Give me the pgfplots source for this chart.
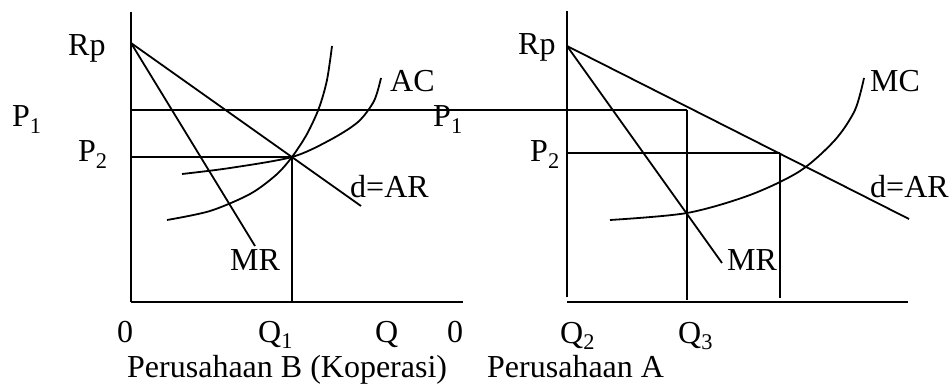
\documentclass[border=0pt]{standalone}
\usepackage{pgfplots}
\pgfplotsset{compat=1.18}
\usepackage{fontspec}
\setmainfont{Liberation Serif}
\tikzset{lbl/.style={inner sep=0pt, anchor=base west, font=\fontsize{32}{38}\selectfont}}
\begin{document}
\begin{tikzpicture}
\begin{axis}[
  scale only axis, width=951pt, height=385pt,
  xmin=0, xmax=951, ymin=0, ymax=385, y dir=reverse,
  enlargelimits=false, hide axis, clip=false,
  cycle list={{black, solid, no marks}},
  every axis plot/.append style={black, solid, no marks, line width=1.8pt},
]
% invisible frame for bounding box
\addplot[draw=none] coordinates {(0,0) (951,385)};
% ---- left panel: Perusahaan B (Koperasi)
\addplot[line width=2.4pt] coordinates {(131,12) (131,302)};
\addplot[line width=2.4pt] coordinates {(131,302) (463,302)};
\addplot coordinates {(131,43) (361,206)};            % d=AR
\addplot coordinates {(131,43) (255,246)};            % MR
\addplot coordinates {(131,110) (687,110)};           % P1 line
\addplot coordinates {(687,110) (687,300)};           % Q3 vertical
\addplot coordinates {(131,157) (292,157)};           % P2 line
\addplot coordinates {(292,157) (292,302)};           % Q1 vertical
\addplot[smooth] coordinates {(167,220) (210,211) (250,194) (276,175) (292,157) (307,134) (319,108) (327,80) (332,46)}; % MC
\addplot[smooth] coordinates {(182,174) (230,168) (292,157) (330,140) (358,122) (374,101) (381,78)}; % AC
% ---- right panel: Perusahaan A
\addplot[line width=2.4pt] coordinates {(567,11) (567,297)};
\addplot[line width=2.4pt] coordinates {(567,302) (908,302)};
\addplot coordinates {(567,46) (909,219)};            % d=AR
\addplot coordinates {(567,46) (722,263)};            % MR
\addplot coordinates {(566,153) (780,153)};           % P2 line
\addplot coordinates {(780,153) (780,298)};           % vertical
\addplot[smooth] coordinates {(610,220) (687,213) (750,195) (800,171) (835,140) (855,110) (864,78)}; % MC
% ---- labels
\node[lbl] at (axis cs:68,56) {Rp};
\node[lbl] at (axis cs:12,127) {P\textsubscript{1}};
\node[lbl] at (axis cs:78,162) {P\textsubscript{2}};
\node[lbl] at (axis cs:390,92) {AC};
\node[lbl] at (axis cs:350,197) {d=AR};
\node[lbl] at (axis cs:230,270) {MR};
\node[lbl] at (axis cs:433,127) {P\textsubscript{1}};
\node[lbl] at (axis cs:117,342) {0};
\node[lbl] at (axis cs:258,342) {Q\textsubscript{1}};
\node[lbl] at (axis cs:375,342) {Q};
\node[lbl] at (axis cs:447,342) {0};
\node[lbl] at (axis cs:127,377) {Perusahaan B (Koperasi)};
\node[lbl] at (axis cs:518,55) {Rp};
\node[lbl] at (axis cs:530,162) {P\textsubscript{2}};
\node[lbl] at (axis cs:870,92) {MC};
\node[lbl] at (axis cs:870,197) {d=AR};
\node[lbl] at (axis cs:727,270) {MR};
\node[lbl] at (axis cs:560,343) {Q\textsubscript{2}};
\node[lbl] at (axis cs:678,343) {Q\textsubscript{3}};
\node[lbl] at (axis cs:487,377) {Perusahaan A};
\end{axis}
\end{tikzpicture}
\end{document}
